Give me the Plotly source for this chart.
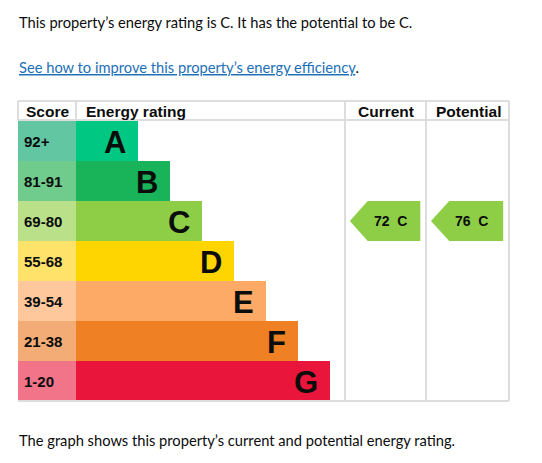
import plotly.graph_objects as go

# ---------------- data ----------------
bands = ["A", "B", "C", "D", "E", "F", "G"]
score_ranges = ["92+", "81-91", "69-80", "55-68", "39-54", "21-38", "1-20"]
band_lower = [92, 81, 69, 55, 39, 21, 1]
bar_rank = [1, 2, 3, 4, 5, 6, 7]
bar_colors = ["#00c781", "#19b459", "#8dce46", "#ffd500", "#fcaa65", "#ef8023", "#e9153b"]
score_colors = ["#62c6a2", "#6fcc8d", "#bbe08a", "#ffe26a", "#fec89c", "#f4ac76", "#f27489"]
current_score = 72
potential_score = 76
headers = ["Score", "Energy rating", "Current", "Potential"]
intro_text = "This property\u2019s energy rating is C. It has the potential to be C."
link_text = "See how to improve this property\u2019s energy efficiency"
footer_text = "The graph shows this property\u2019s current and potential energy rating."

# ---------------- geometry helpers ----------------
W, H = 542, 463
def px(x):
    return x / W
def py(y):
    return 1 - y / H

TABLE_L, SCORE_R, RATING_R, CUR_R, TABLE_R = 18, 76, 345, 426, 509
HEAD_T, HEAD_B, TABLE_B = 101, 121, 401
UNIT, OFFSET = 32.0, 30.0  # px per rank step, base width

def band_index(score):
    for i, lo in enumerate(band_lower):
        if score >= lo:
            return i
    return len(band_lower) - 1

TABLE_FONT = "Liberation Sans, Arial, sans-serif"
BODY_FONT = "Lato, Noto Sans, sans-serif"
BODY_SIZE = 14.7
TXT = "#0b0c0c"

fig = go.Figure()
idx = list(range(len(bands)))

# score column cells
fig.add_trace(go.Bar(orientation="h", y=idx, x=[1] * len(bands), width=1,
                     marker=dict(color=score_colors, line=dict(width=0)),
                     xaxis="x", yaxis="y", hoverinfo="skip", showlegend=False))

# energy rating bars
r0 = -OFFSET / UNIT
r1 = r0 + (RATING_R - SCORE_R) / UNIT
fig.add_trace(go.Bar(orientation="h", y=idx, x=[r - r0 for r in bar_rank], base=r0, width=1,
                     marker=dict(color=bar_colors, line=dict(width=0)),
                     xaxis="x2", yaxis="y", hoverinfo="skip", showlegend=False))

# current / potential arrows
def arrow(score, xa):
    i = band_index(score)
    tip, notch, right = 0.06, 0.28, 0.93
    xs = [tip, notch, right, right, notch, tip]
    ys = [i, i - 0.5, i - 0.5, i + 0.5, i + 0.5, i]
    fig.add_trace(go.Scatter(x=xs, y=ys, fill="toself", mode="lines",
                             line=dict(width=0, color=bar_colors[i]),
                             fillcolor=bar_colors[i], xaxis=xa, yaxis="y",
                             hoverinfo="skip", showlegend=False))
    return i

ci = arrow(current_score, "x3")
pi = arrow(potential_score, "x4")

annotations = []
# score labels and band letters
for i in idx:
    annotations.append(dict(x=0, y=i, xref="x", yref="y", text="<b>%s</b>" % score_ranges[i],
                            showarrow=False, xanchor="left", yanchor="middle", xshift=4,
                            font=dict(family=TABLE_FONT, size=15, color=TXT)))
    annotations.append(dict(x=bar_rank[i], y=i, xref="x2", yref="y", text="<b>%s</b>" % bands[i],
                            showarrow=False, xanchor="right", yanchor="middle", xshift=-10, yshift=-1,
                            font=dict(family=TABLE_FONT, size=31, color=TXT)))

annotations.append(dict(x=0.56, y=ci, xref="x3", yref="y",
                        text="<b>%d\u00a0\u00a0%s</b>" % (current_score, bands[ci]),
                        showarrow=False, xanchor="center", yanchor="middle",
                        font=dict(family=TABLE_FONT, size=14, color=TXT)))
annotations.append(dict(x=0.55, y=pi, xref="x4", yref="y",
                        text="<b>%d\u00a0\u00a0%s</b>" % (potential_score, bands[pi]),
                        showarrow=False, xanchor="center", yanchor="middle",
                        font=dict(family=TABLE_FONT, size=14, color=TXT)))

# headers
head_y = py((HEAD_T + HEAD_B) / 2 + 1)
annotations += [
    dict(x=px(TABLE_L + 6), y=head_y, xref="paper", yref="paper", text="<b>%s</b>" % headers[0],
         showarrow=False, xanchor="left", yanchor="middle", font=dict(family=TABLE_FONT, size=15.5, color=TXT)),
    dict(x=px(SCORE_R + 8), y=head_y, xref="paper", yref="paper", text="<b>%s</b>" % headers[1],
         showarrow=False, xanchor="left", yanchor="middle", font=dict(family=TABLE_FONT, size=15.5, color=TXT)),
    dict(x=px((RATING_R + CUR_R) / 2), y=head_y, xref="paper", yref="paper", text="<b>%s</b>" % headers[2],
         showarrow=False, xanchor="center", yanchor="middle", font=dict(family=TABLE_FONT, size=15.5, color=TXT)),
    dict(x=px((CUR_R + TABLE_R) / 2 + 1), y=head_y, xref="paper", yref="paper", text="<b>%s</b>" % headers[3],
         showarrow=False, xanchor="center", yanchor="middle", font=dict(family=TABLE_FONT, size=15.5, color=TXT)),
]

# body texts
link_html = ('<span style="color:#1d70b8;text-decoration:underline">%s</span>.' % link_text)
annotations += [
    dict(x=px(17), y=py(22), xref="paper", yref="paper", text=intro_text, showarrow=False,
         xanchor="left", yanchor="middle", font=dict(family=BODY_FONT, size=BODY_SIZE, color=TXT)),
    dict(x=px(17), y=py(67), xref="paper", yref="paper", text=link_html, showarrow=False,
         xanchor="left", yanchor="middle", font=dict(family=BODY_FONT, size=BODY_SIZE, color=TXT)),
    dict(x=px(17), y=py(440), xref="paper", yref="paper", text=footer_text, showarrow=False,
         xanchor="left", yanchor="middle", font=dict(family=BODY_FONT, size=BODY_SIZE, color=TXT)),
]

# table grid lines
GRID = "#dddddd"
shapes = []
def line(x0, y0, x1, y1):
    shapes.append(dict(type="line", xref="paper", yref="paper", x0=px(x0), y0=py(y0), x1=px(x1), y1=py(y1),
                       line=dict(color=GRID, width=2), layer="above"))
line(TABLE_L, HEAD_T, TABLE_R, HEAD_T)
line(TABLE_L, HEAD_B - 1, TABLE_R, HEAD_B - 1)
line(TABLE_L, TABLE_B, TABLE_R, TABLE_B)
line(SCORE_R, HEAD_T, SCORE_R, HEAD_B - 1)
line(TABLE_L, HEAD_T, TABLE_L, HEAD_B - 1)
line(RATING_R, HEAD_T, RATING_R, TABLE_B)
line(CUR_R, HEAD_T, CUR_R, TABLE_B)
line(TABLE_R, HEAD_T, TABLE_R, TABLE_B)

hidden = dict(visible=False, showgrid=False, zeroline=False, fixedrange=True)
fig.update_layout(
    width=W, height=H, margin=dict(l=0, r=0, t=0, b=0),
    paper_bgcolor="white", plot_bgcolor="rgba(0,0,0,0)",
    barmode="overlay", bargap=0, showlegend=False,
    xaxis=dict(domain=[px(TABLE_L), px(SCORE_R)], range=[0, 1], anchor="y", **hidden),
    xaxis2=dict(domain=[px(SCORE_R), px(RATING_R)], range=[r0, r1], anchor="y", **hidden),
    xaxis3=dict(domain=[px(RATING_R), px(CUR_R)], range=[0, 1], anchor="y", **hidden),
    xaxis4=dict(domain=[px(CUR_R), px(TABLE_R)], range=[0, 1], anchor="y", **hidden),
    yaxis=dict(domain=[py(TABLE_B), py(HEAD_B)], range=[len(bands) - 0.5, -0.5], **hidden),
    annotations=annotations, shapes=shapes,
)
fig.write_html("out.html", config={"displayModeBar": False},
               post_script="document.body.style.margin='0px';document.body.style.overflow='hidden';")
